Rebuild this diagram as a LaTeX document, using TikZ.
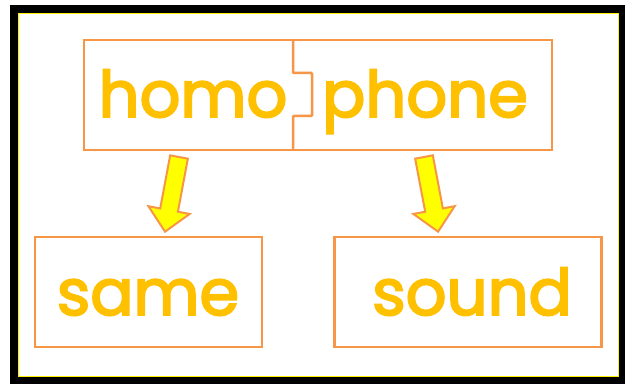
\documentclass[tikz,border=0pt]{standalone}
\usepackage{fontspec}
\setmainfont{Poppins}
\newfontfamily\wordfont{Poppins}[FakeBold=3]
\definecolor{boxorange}{HTML}{F79646}
\definecolor{wordgold}{HTML}{FFC000}
\definecolor{arrowyellow}{HTML}{FFFF00}
\tikzset{
  wordbox/.style={draw=boxorange, line width=2.5pt, rectangle, inner sep=0pt},
  word/.style={text=wordgold, font=\wordfont\fontsize{64}{64}\selectfont, anchor=base, inner sep=0pt},
  blockarrow/.style={draw=boxorange, line width=2pt, fill=arrowyellow, line join=miter},
  pics/downarrow/.style={code={
    \draw[blockarrow] (-9,0) -- (9,0) -- (9,54) -- (21,54) -- (0,76) -- (-21,54) -- (-9,54) -- cycle;
  }}
}
\begin{document}
\begin{tikzpicture}[x=1pt,y=-1pt]
\useasboundingbox (0,0) rectangle (627,385);
% frame
\fill[black] (10,5) rectangle (625,384);
\fill[white] (18,13) rectangle (618,376);
\draw[yellow, line width=0.8pt] (18,13) rectangle (618,376);
% top split box
\node[wordbox, minimum width=468pt, minimum height=110pt] (top) at (318,95) {};
\coordinate (divtop) at (293,40);
\coordinate (divbot) at (293,150);
\draw[boxorange, line width=2.5pt, rounded corners=1pt] (divtop) -- (293,73) -- (312,73) -- (312,116) -- (293,116) -- (divbot);
\node[word] (homo) at (193,117) {homo};
\node[word] (phone) at (425,117) {phone};
% bottom boxes
\node[wordbox, minimum width=227pt, minimum height=110pt] (samebox) at (148.5,292) {};
\node[wordbox, minimum width=267pt, minimum height=110pt] (soundbox) at (468,292) {};
\node[word] (same) at (148,315) {same};
\node[word] (sound) at (472,315) {sound};
% arrows
\pic[shift={(179,157)}, rotate=-10.6] (arrowL) {downarrow};
\pic[shift={(424,157)}, rotate=10.7] (arrowR) {downarrow};
\end{tikzpicture}
\end{document}
